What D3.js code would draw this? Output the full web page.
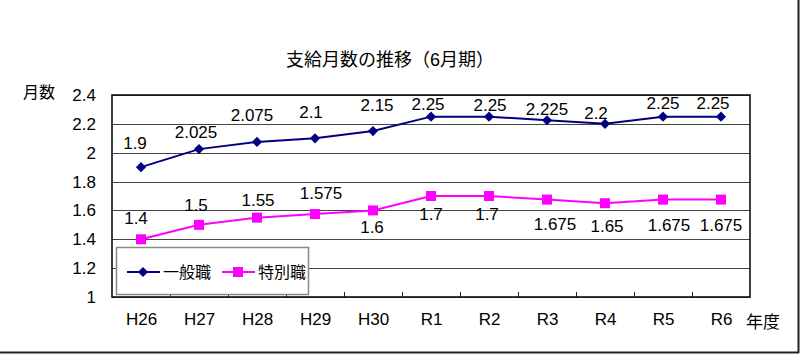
<!DOCTYPE html>
<html>
<head>
<meta charset="utf-8">
<script src="https://cdn.jsdelivr.net/npm/d3@7"></script>
<style>
body { margin: 0; background: #fff; }
text { font-family: "Liberation Sans", "Noto Sans CJK JP", sans-serif; fill: #000; }
</style>
</head>
<body>
<div id="container"></div>
<script>
var years = ['H26', 'H27', 'H28', 'H29', 'H30', 'R1', 'R2', 'R3', 'R4', 'R5', 'R6'];
var general = [1.9, 2.025, 2.075, 2.1, 2.15, 2.25, 2.25, 2.225, 2.2, 2.25, 2.25];
var special = [1.4, 1.5, 1.55, 1.575, 1.6, 1.7, 1.7, 1.675, 1.65, 1.675, 1.675];
var yTicks = [1, 1.2, 1.4, 1.6, 1.8, 2, 2.2, 2.4];
var seriesNames = ['一般職', '特別職'];

// hand-placed label nudges (like the moved labels in the original)
var generalNudge = [[-6, -24], [-3, -17], [-5, -27], [-4, -26], [4, -26], [-3, -13], [1, -12], [0, -11], [-9, -11], [0, -14], [-8, -14]];
var specialNudge = [[-5, -21], [-3, -20], [1, -18], [6, -21], [-1, 17], [0, 18], [-2, 18], [8, 24], [2, 23], [6, 25], [0, 25]];

var width = 800,
    height = 354,
    plot = { left: 112, top: 95, right: 750, bottom: 297 };

var svg = d3.select('#container')
    .append('svg')
    .attr('width', width)
    .attr('height', height);

// outer frame (right + bottom shadow lines)
svg.append('line').attr('x1', 798.5).attr('x2', 798.5).attr('y1', 0).attr('y2', 353)
    .attr('stroke', '#222').attr('stroke-width', 2);
svg.append('line').attr('x1', 0).attr('x2', 799).attr('y1', 352.5).attr('y2', 352.5)
    .attr('stroke', '#222').attr('stroke-width', 2);

var scaleX = d3.scalePoint()
    .domain(years)
    .range([plot.left, plot.right])
    .padding(0.5);
var scaleY = d3.scaleLinear()
    .domain([1, 2.4])
    .range([plot.bottom, plot.top]);

// title
svg.append('text')
    .attr('x', 390)
    .attr('y', 60)
    .attr('dy', '0.35em')
    .attr('text-anchor', 'middle')
    .style('font-size', '18px')
    .text('支給月数の推移（6月期）');

// gridlines
svg.append('g')
    .selectAll('line')
    .data(yTicks)
    .enter()
    .append('line')
    .attr('x1', plot.left)
    .attr('x2', plot.right)
    .attr('y1', function(d) { return Math.round(scaleY(d)) + 0.5; })
    .attr('y2', function(d) { return Math.round(scaleY(d)) + 0.5; })
    .attr('stroke', '#444')
    .attr('stroke-width', 1);

// y axis labels
var yAxis = d3.axisLeft(scaleY)
    .tickValues(yTicks)
    .tickSize(0)
    .tickPadding(16)
    .tickFormat(function(d) { return String(+d.toFixed(1)); });
var gy = svg.append('g')
    .attr('transform', 'translate(' + plot.left + ',0)')
    .call(yAxis);
gy.select('.domain').remove();
gy.selectAll('text').style('font-size', '17px').style('font-family', null);

svg.append('text')
    .attr('x', 23)
    .attr('y', 92)
    .attr('dy', '0.35em')
    .style('font-size', '16px')
    .text('月数');

// x axis labels
var xAxis = d3.axisBottom(scaleX).tickSize(0).tickPadding(16);
var gx = svg.append('g')
    .attr('transform', 'translate(0,' + plot.bottom + ')')
    .call(xAxis);
gx.select('.domain').remove();
gx.selectAll('text').style('font-size', '17px').style('font-family', null);

svg.append('text')
    .attr('x', 746)
    .attr('y', 322)
    .attr('dy', '0.35em')
    .style('font-size', '17px')
    .text('年度');

// category boundary ticks (inward)
var step = scaleX.step();
svg.append('g')
    .selectAll('line')
    .data(years.slice(1))
    .enter()
    .append('line')
    .attr('x1', function(d) { return Math.round(scaleX(d) - step / 2) + 0.5; })
    .attr('x2', function(d) { return Math.round(scaleX(d) - step / 2) + 0.5; })
    .attr('y1', plot.bottom)
    .attr('y2', plot.bottom - 5)
    .attr('stroke', '#222');

// plot border
svg.append('rect')
    .attr('x', plot.left)
    .attr('y', plot.top)
    .attr('width', plot.right - plot.left)
    .attr('height', plot.bottom - plot.top)
    .attr('fill', 'none')
    .attr('stroke', '#111')
    .attr('stroke-width', 1.6);

// legend box
var legend = svg.append('g');
legend.append('rect')
    .attr('x', 116.5).attr('y', 247.5)
    .attr('width', 192).attr('height', 47)
    .attr('fill', '#fff')
    .attr('stroke', '#888')
    .attr('stroke-width', 1.5);

var lineGen = d3.line()
    .x(function(d, i) { return scaleX(years[i]); })
    .y(function(d) { return scaleY(d); });

var diamond = d3.symbol().type(d3.symbolSquare).size(52);
var square = d3.symbol().type(d3.symbolSquare).size(100);

var series = [
    { name: seriesNames[0], values: general, color: '#000080', nudge: generalNudge, sym: diamond, rot: 45 },
    { name: seriesNames[1], values: special, color: '#FF00FF', nudge: specialNudge, sym: square, rot: 0 }
];

series.forEach(function(s) {
    svg.append('path')
        .attr('d', lineGen(s.values))
        .attr('fill', 'none')
        .attr('stroke', s.color)
        .attr('stroke-width', 2);
    svg.append('g')
        .selectAll('path')
        .data(s.values)
        .enter()
        .append('path')
        .attr('d', s.sym())
        .attr('fill', s.color)
        .attr('transform', function(d, i) {
            return 'translate(' + scaleX(years[i]) + ',' + scaleY(d) + ') rotate(' + s.rot + ')';
        });
    svg.append('g')
        .selectAll('text')
        .data(s.values)
        .enter()
        .append('text')
        .attr('x', function(d, i) { return scaleX(years[i]) + s.nudge[i][0]; })
        .attr('y', function(d, i) { return scaleY(d) + s.nudge[i][1]; })
        .attr('dy', '0.35em')
        .attr('text-anchor', 'middle')
        .style('font-size', '17px')
        .text(function(d) { return d; });
});

// legend entries
var legendX = [127, 222];
series.forEach(function(s, i) {
    var lx = legendX[i], ly = 272;
    legend.append('line')
        .attr('x1', lx).attr('x2', lx + 33)
        .attr('y1', ly).attr('y2', ly)
        .attr('stroke', s.color)
        .attr('stroke-width', 2);
    legend.append('path')
        .attr('d', s.sym())
        .attr('fill', s.color)
        .attr('transform', 'translate(' + (lx + 16) + ',' + ly + ') rotate(' + s.rot + ')');
    legend.append('text')
        .attr('x', lx + 36)
        .attr('y', ly)
        .attr('dy', '0.35em')
        .style('font-size', '16px')
        .text(s.name);
});
</script>
</body>
</html>
